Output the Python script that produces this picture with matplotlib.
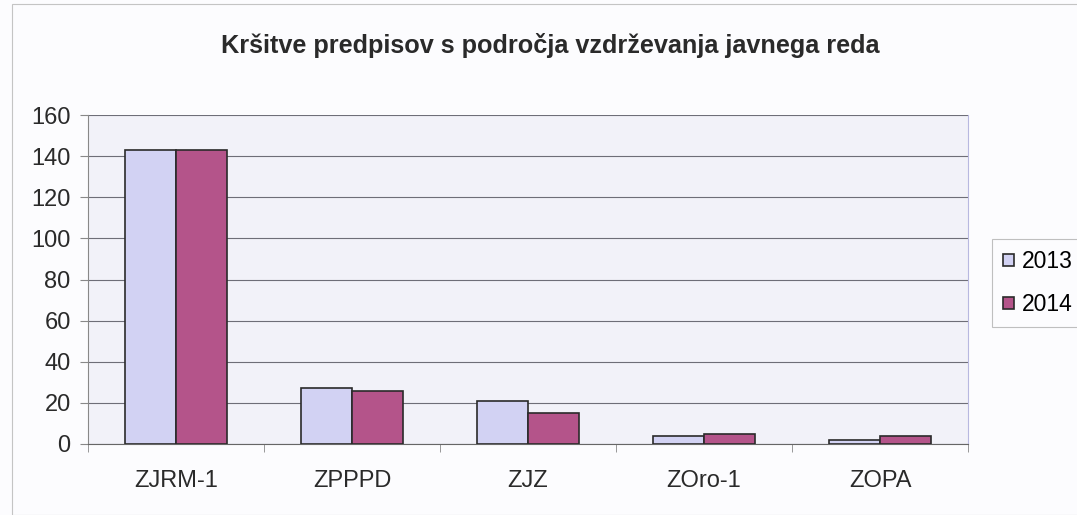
import matplotlib
matplotlib.use("Agg")
import matplotlib.pyplot as plt
import numpy as np

categories = ["ZJRM-1", "ZPPPD", "ZJZ", "ZOro-1", "ZOPA"]
series_names = ["2013", "2014"]
values_2013 = [143, 27, 21, 4, 2]
values_2014 = [143, 26, 15, 5, 4]
yticks = [0, 20, 40, 60, 80, 100, 120, 140, 160]
title = "Kršitve predpisov s področja vzdrževanja javnega reda"

plt.rcParams["font.family"] = ["Liberation Sans", "DejaVu Sans"]

W, H = 1077, 515
fig = plt.figure(figsize=(W/100, H/100), dpi=100)
fig.patch.set_facecolor("#fcfcfe")
ax = fig.add_axes([88/W, 1-444/H, (968-88)/W, (444-115)/H])
ax.set_facecolor("#f2f2f9")

x = np.arange(len(categories))
bw = 0.29
c13 = "#d2d2f3"
c14 = "#b4548a"
b1 = ax.bar(x - bw/2, values_2013, bw, color=c13, edgecolor="#2a2a2a", linewidth=1.2, label=series_names[0], zorder=3)
b2 = ax.bar(x + bw/2, values_2014, bw, color=c14, edgecolor="#2a2a2a", linewidth=1.2, label=series_names[1], zorder=3)

ax.set_xlim(-0.5, len(categories)-0.5)
ax.set_ylim(0, 160)
ax.set_yticks(yticks)
ax.set_yticklabels([str(v) for v in yticks], fontsize=17, color="#2a2a2a")
ax.set_xticks(x)
ax.set_xticklabels(categories, fontsize=17, color="#2a2a2a")
ax.yaxis.grid(True, color="#6e6e78", linewidth=0.8, zorder=0)
ax.set_axisbelow(True)
ax.spines["top"].set_visible(False)
ax.spines["right"].set_color("#b8b8e0")
ax.spines["left"].set_color("#888888")
ax.spines["bottom"].set_color("#666666")
ax.tick_params(axis="y", length=6, color="#888888", pad=6.5)
ax.tick_params(axis="x", length=0, pad=19)
ax.set_xticks(np.arange(-0.5, len(categories), 1), minor=True)
ax.tick_params(axis="x", which="minor", length=6, color="#888888")

fig.text(550/W, 1-45/H, title, ha="center", va="center", fontsize=18.2, fontweight="bold", color="#2a2a2a")

leg = fig.legend(handles=[b1, b2], labels=series_names, loc="upper left",
                 bbox_to_anchor=(992/W, 1-239/H), fontsize=16.5, frameon=True,
                 handlelength=0.44, handleheight=0.44, handletextpad=0.35,
                 labelspacing=0.85, borderpad=0.5, borderaxespad=0.0, fancybox=False)
leg.get_frame().set_edgecolor("#b0b0b0")
leg.get_frame().set_facecolor("#fcfcfe")
leg.get_frame().set_linewidth(0.8)

fig.add_artist(plt.Rectangle((12/W, 0.0), 1.0, 1-4/H, transform=fig.transFigure,
                             fill=False, edgecolor="#c4c4c4", linewidth=0.8))

fig.savefig("out.png", dpi=100)
